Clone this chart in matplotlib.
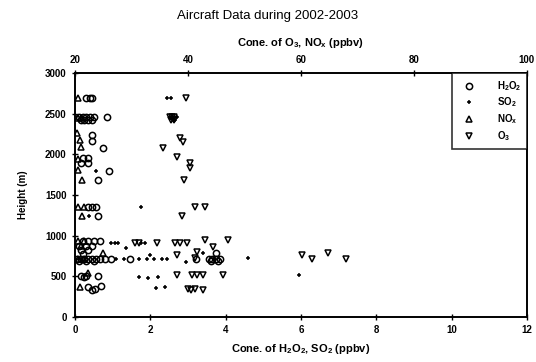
import numpy as np
import matplotlib.pyplot as plt

plt.rcParams['font.family'] = ['Liberation Sans', 'DejaVu Sans']
plt.rcParams['font.weight'] = 'bold'
plt.rcParams['mathtext.fontset'] = 'custom'
plt.rcParams['mathtext.bf'] = 'Liberation Sans:bold'
plt.rcParams['mathtext.rm'] = 'Liberation Sans:bold'
plt.rcParams['mathtext.default'] = 'bf'

# H2O2 (ppbv, bottom axis) vs height (m)
h2o2_x = [0.3, 0.45, 0.4,
          0.1, 0.2, 0.3, 0.4, 0.5, 0.85,
          0.15, 0.25, 0.35, 0.45,
          0.45, 0.45, 0.75, 0.2, 0.35, 0.15, 0.35, 0.9, 0.6,
          0.35, 0.45, 0.55, 0.6,
          0.2, 0.35, 0.5, 0.65, 0.1, 0.3, 0.45, 0.15, 0.35, 0.2,
          0.05, 0.15, 0.25, 0.35, 0.45, 0.55, 0.65, 0.8, 0.95, 1.45,
          3.2, 3.55, 3.65, 3.75, 3.85, 3.75,
          0.1, 0.3, 0.5, 3.6, 3.8,
          0.15, 0.3, 0.6, 0.25,
          0.35, 0.53, 0.69, 0.45]
h2o2_h = [2700, 2700, 2690,
          2460, 2460, 2460, 2460, 2460, 2460,
          2420, 2420, 2420, 2420,
          2240, 2170, 2080, 1960, 1960, 1900, 1900, 1800, 1690,
          1360, 1360, 1360, 1245,
          940, 940, 940, 940, 880, 880, 880, 830, 830, 770,
          720, 720, 720, 720, 720, 720, 720, 720, 720, 720,
          720, 720, 720, 720, 720, 785,
          690, 690, 690, 690, 690,
          510, 510, 510, 490,
          370, 340, 380, 330]

# SO2 (ppbv, bottom axis)
so2_x = [2.45, 2.55, 2.55, 2.6, 2.7, 2.6, 2.65, 0.55, 1.75, 0.37,
         0.95, 1.05, 1.15, 1.75, 1.85, 1.35, 3.4, 2.0,
         1.1, 1.3, 1.7, 1.9, 2.1, 2.3, 2.45, 4.6, 3.7, 2.95,
         1.7, 1.95, 2.2, 5.95, 2.15, 2.4]
so2_h = [2700, 2700, 2460, 2460, 2460, 2420, 2420, 1800, 1360, 1245,
         915, 915, 915, 915, 915, 850, 790, 760,
         720, 720, 720, 720, 720, 720, 720, 725, 720, 680,
         490, 480, 490, 520, 360, 370]

# NOx (ppbv, top axis)
nox_x = [20.6, 20.5, 21.0, 20.4, 20.8, 21.0, 20.5, 20.6, 21.2,
         20.6, 21.6, 21.2, 20.5, 21.5, 21.0, 25.0, 20.5, 21.5, 22.3, 20.9]
nox_h = [2700, 2450, 2450, 2260, 2180, 2090, 1950, 1810, 1690,
         1360, 1360, 1245, 940, 940, 880, 790, 720, 720, 540, 370]

# O3 (ppbv, top axis)
o3_x = [39.7, 36.8, 37.2, 37.6, 37.0, 37.5, 38.6, 39.1, 35.6, 38.1,
        40.4, 40.4, 39.3, 41.3, 43.0, 39.0,
        43.0, 47.0, 30.6, 31.3, 34.5, 37.7, 38.5, 39.8, 44.5, 41.6,
        38.1, 41.3, 60.2, 62.0, 64.7, 68.0,
        38.1, 40.7, 41.6, 42.7, 46.2, 40.0, 41.2, 40.5, 42.7]
o3_h = [2700, 2460, 2460, 2460, 2420, 2420, 2200, 2150, 2080, 1970,
        1900, 1830, 1690, 1355, 1355, 1240,
        950, 950, 910, 910, 910, 910, 910, 910, 860, 800,
        765, 725, 760, 715, 785, 715,
        515, 515, 515, 515, 515, 350, 350, 330, 330]

fig = plt.figure(figsize=(5.36, 3.62), dpi=100)
ax = fig.add_axes([0.140, 0.124, 0.843, 0.674])
ax2 = ax.twiny()

ax.plot(h2o2_x, h2o2_h, 'o', mfc='none', mec='black', ms=4.5, mew=1.1, label='H$_2$O$_2$')
ax.plot(so2_x, so2_h, '+', color='black', ms=3.5, mew=1.1, label='SO$_2$')
ax2.plot(nox_x, nox_h, '^', mfc='none', mec='black', ms=4.5, mew=1.1, label='NO$_x$')
ax2.plot(o3_x, o3_h, 'v', mfc='none', mec='black', ms=4.5, mew=1.1, label='O$_3$')

ax.set_xlim(0, 12)
ax2.set_xlim(20, 100)
ax.set_ylim(0, 3000)
ax.set_xticks(np.arange(0, 13, 2))
ax2.set_xticks(np.arange(20, 101, 20))
ax.set_yticks(np.arange(0, 3001, 500))

for a in (ax, ax2):
    for s in a.spines.values():
        s.set_linewidth(1.2)
    a.tick_params(labelsize=7, direction='inout', length=5, width=1)

ax.set_xlabel('Cone. of H$_2$O$_2$, SO$_2$ (ppbv)', fontsize=8, fontweight='bold', labelpad=5)
ax2.set_xlabel('Cone. of O$_3$, NO$_x$ (ppbv)', fontsize=8, fontweight='bold', labelpad=6)
ax.set_ylabel('Height (m)', fontsize=7, fontweight='bold', labelpad=12)
fig.suptitle('Aircraft Data during 2002-2003', fontsize=9.5, fontweight='normal', y=0.972)

h1, l1 = ax.get_legend_handles_labels()
h2, l2 = ax2.get_legend_handles_labels()
leg = ax2.legend(h1 + h2, l1 + l2, loc='upper right', borderaxespad=0, fancybox=False,
                 edgecolor='black', fontsize=7, handletextpad=1.6, labelspacing=0.3,
                 borderpad=0.6, handlelength=2.4)
leg.get_frame().set_linewidth(1.2)

fig.savefig('out.png', dpi=100)
